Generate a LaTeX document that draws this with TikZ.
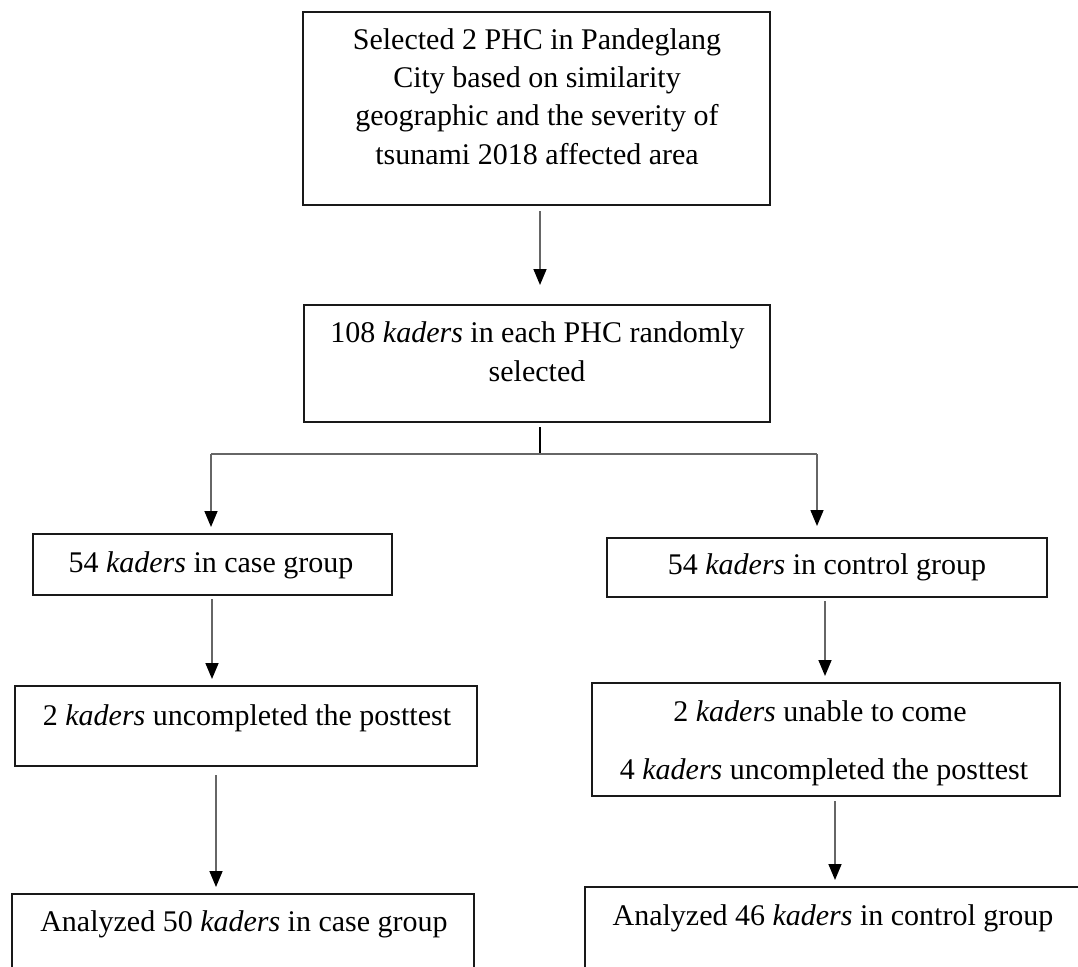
\documentclass[tikz,border=0pt]{standalone}
\usepackage{fontspec}
\setmainfont{Liberation Serif}
\usetikzlibrary{arrows.meta}
\begin{document}
\begin{tikzpicture}[x=1pt,y=-1pt,
  box/.style={draw=black!90, line width=2pt, inner sep=0pt, fill=none},
  lbl/.style={anchor=base, inner sep=0pt, font=\fontsize{30}{38}\selectfont},
  link/.style={draw=black!60, line width=1.6pt},
  arr/.style={link, -{Triangle[length=16pt,width=13pt,color=black]}, shorten >=6pt}
]
\useasboundingbox (0,0) rectangle (1078,966);

% boxes
\node[box, minimum width=467pt, minimum height=193pt] (b1) at (536.5,108.5) {};
\node[box, minimum width=466pt, minimum height=117pt] (b2) at (537,363.5) {};
\node[box, minimum width=359pt, minimum height=61pt] (b3) at (212.5,564.5) {};
\node[box, minimum width=440pt, minimum height=59pt] (b4) at (827,567.5) {};
\node[box, minimum width=462pt, minimum height=80pt] (b5) at (246,726) {};
\node[box, minimum width=468pt, minimum height=113pt] (b6) at (826,739.5) {};
\node[box, minimum width=462pt, minimum height=100pt] (b7) at (243,944) {};
\node[box, minimum width=496pt, minimum height=110pt] (b8) at (833,942) {};

% labels
\node[lbl] (t1a) at (537,49) {Selected 2 PHC in Pandeglang};
\node[lbl] (t1b) at (537,87) {City based on similarity};
\node[lbl] (t1c) at (537,125) {geographic and the severity of};
\node[lbl] (t1d) at (537,164) {tsunami 2018 affected area};
\node[lbl] (t2a) at (537.5,342) {108 \textit{kaders} in each PHC randomly};
\node[lbl] (t2b) at (537,381) {selected};
\node[lbl] (t3) at (211,572) {54 \textit{kaders} in case group};
\node[lbl] (t4) at (827,574) {54 \textit{kaders} in control group};
\node[lbl] (t5) at (247,725) {2 \textit{kaders} uncompleted the posttest};
\node[lbl] (t6a) at (820,721) {2 \textit{kaders} unable to come};
\node[lbl] (t6b) at (824,779) {4 \textit{kaders} uncompleted the posttest};
\node[lbl] (t7) at (244,931) {Analyzed 50 \textit{kaders} in case group};
\node[lbl] (t8) at (833,925) {Analyzed 46 \textit{kaders} in control group};

% connector positions
\coordinate (x1) at (540,0);
\coordinate (split) at (540,454);
\coordinate (splitL) at (211,454);
\coordinate (splitR) at (817,454);
\coordinate (x3) at (212,0);
\coordinate (x4) at (825,0);
\coordinate (x5) at (216,0);
\coordinate (x6) at (835,0);

% connectors
\draw[arr, shorten <=5pt, shorten >=19pt] (b1.south -| x1) -- (b2.north -| x1);
\draw[link, black, shorten <=4pt] (b2.south -| split) -- (split);
\draw[link] (splitL) -- (splitR);
\draw[arr] (splitL) -- (b3.north -| splitL);
\draw[arr, shorten >=11pt] (splitR) -- (b4.north -| splitR);
\draw[arr, shorten <=3pt] (b3.south -| x3) -- (b5.north -| x3);
\draw[arr, shorten <=3pt] (b4.south -| x4) -- (b6.north -| x4);
\draw[arr, shorten <=8pt] (b5.south -| x5) -- (b7.north -| x5);
\draw[arr, shorten <=4pt] (b6.south -| x6) -- (b8.north -| x6);
\end{tikzpicture}
\end{document}
